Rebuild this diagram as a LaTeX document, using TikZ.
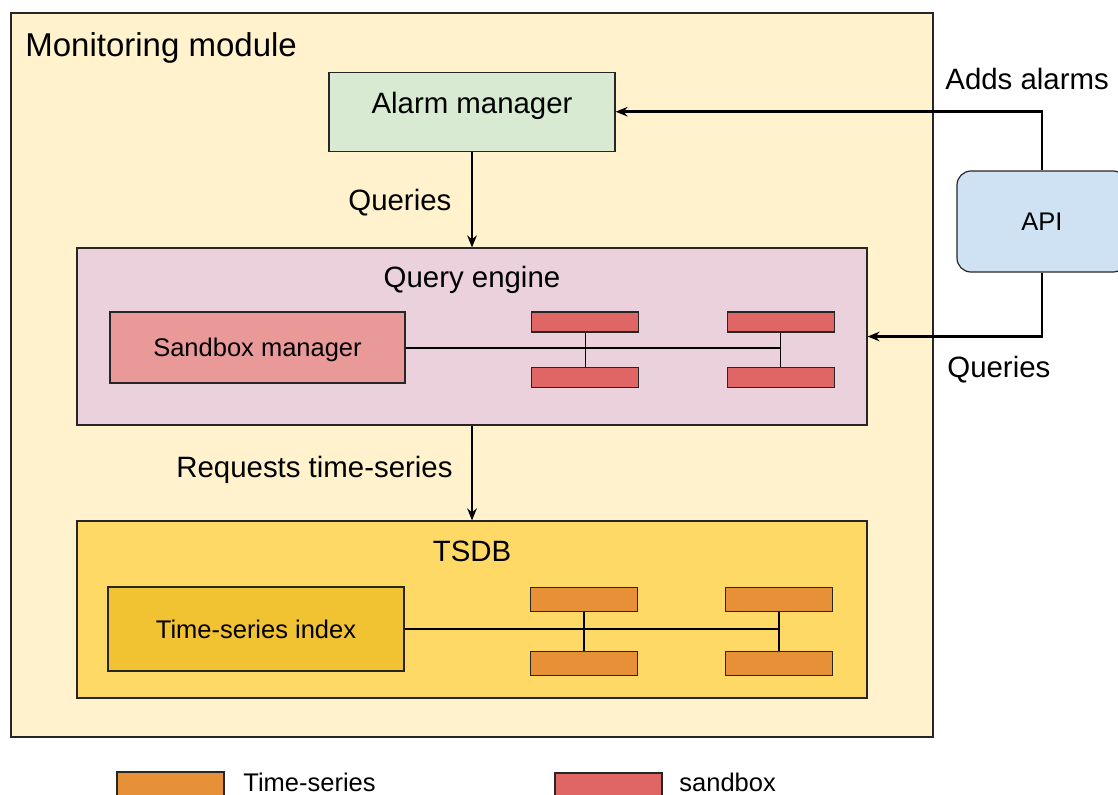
\documentclass[tikz,border=0pt]{standalone}
\usepackage{fontspec}
\setmainfont{Liberation Sans}
\usetikzlibrary{arrows.meta}
\definecolor{monfill}{HTML}{FFF2CC}
\definecolor{alarmgreen}{HTML}{D9EAD3}
\definecolor{querypink}{HTML}{EAD1DC}
\definecolor{sbpink}{HTML}{EA9999}
\definecolor{sbred}{HTML}{E06666}
\definecolor{tsdbyellow}{HTML}{FFD966}
\definecolor{tsyellow}{HTML}{F1C232}
\definecolor{tsorange}{HTML}{E69138}
\definecolor{apiblue}{HTML}{CFE2F3}
\begin{document}
\begin{tikzpicture}[x=0.5pt,y=-0.5pt,>={Stealth[length=6pt,width=4.8pt,inset=2pt]},
	box/.style={draw=black!85,line width=0.6pt,inner sep=0,text height=9.1pt,text depth=0pt},
	big/.style={font=\fontsize{14.7}{17}\selectfont},
	small/.style={font=\fontsize{12.75}{15}\selectfont},
	lbl/.style={big,inner sep=0,anchor=base west},
	title/.style={big,inner sep=0,anchor=base},
	sbox/.style={box,fill=sbred,minimum width=53.5pt,minimum height=10pt},
	tbox/.style={box,fill=tsorange,minimum width=53.5pt,minimum height=12pt},
	flow/.style={->,line width=1.25pt},
	tie/.style={line width=0.6pt}]
	\useasboundingbox (0,0) rectangle (1118,794);
	\node[box,fill=monfill,minimum width=461pt,minimum height=362pt] (monitor) at (472,375) {};
	\node[inner sep=0,anchor=base west,font=\fontsize{16.5}{19}\selectfont] (montitle) at (25,56) {Monitoring module};
	\node[box,big,fill=alarmgreen,minimum width=143pt,minimum height=39.5pt,text height=10.5pt,text depth=8.9pt] (alarm) at (472,111.7) {Alarm manager};
	\node[box,fill=querypink,minimum width=395pt,minimum height=88.5pt] (query) at (472,336.5) {};
	\node[title] (qtitle) at (472,287) {Query engine};
	\node[box,small,fill=sbpink,minimum width=147.5pt,minimum height=35.5pt] (sbman) at (257.5,347.5) {Sandbox manager};
	\node[sbox] (sbA) at (585.3,322) {};
	\node[sbox] (sbB) at (585.3,377.5) {};
	\node[sbox] (sbC) at (780.7,322) {};
	\node[sbox] (sbD) at (780.7,377.5) {};
	\node[box,fill=tsdbyellow,minimum width=395pt,minimum height=88.5pt] (tsdb) at (472,609.5) {};
	\node[title] (tstitle) at (472,561) {TSDB};
	\node[box,small,fill=tsyellow,minimum width=148pt,minimum height=42pt] (tsindex) at (256,629) {Time-series index};
	\node[tbox] (tsA) at (584,599.3) {};
	\node[tbox] (tsB) at (584,663.7) {};
	\node[tbox] (tsC) at (779,599.3) {};
	\node[tbox] (tsD) at (779,663.7) {};
	\node[box,small,fill=apiblue,rounded corners=7pt,minimum width=85pt,minimum height=50.5pt] (api) at (1042,221.5) {API};
	\node[lbl] (qlabel) at (348,210) {Queries};
	\node[lbl] (reqlabel) at (176,477) {Requests time-series};
	\node[lbl] (addslabel) at (945,89) {Adds alarms};
	\node[lbl] (apiqlabel) at (947,377) {Queries};
	\node[box,fill=tsorange,minimum width=53.5pt,minimum height=14pt] (legts) at (170.5,786) {};
	\node[box,fill=sbred,minimum width=53.5pt,minimum height=14pt] (legsb) at (608.5,787) {};
	\node[small,inner sep=0,anchor=base west] (legtstext) at (243,791) {Time-series};
	\node[small,inner sep=0,anchor=base west] (legsbtext) at (679,791) {sandbox};
	\draw[flow] (api.north) |- (alarm.east);
	\draw[flow] (api.south) |- (query.east);
	\draw[flow] (alarm) -- (query);
	\draw[flow] (query) -- (tsdb);
	\draw[line width=1pt] (sbman.east) -- (sbman.east -| sbC.south);
	\draw[tie] (sbA) -- (sbB);
	\draw[tie] (sbC) -- (sbD);
	\draw[line width=1pt] (tsindex.east) -- (tsindex.east -| tsC.south);
	\draw[tie] (tsA) -- (tsB);
	\draw[tie] (tsC) -- (tsD);
\end{tikzpicture}
\end{document}
